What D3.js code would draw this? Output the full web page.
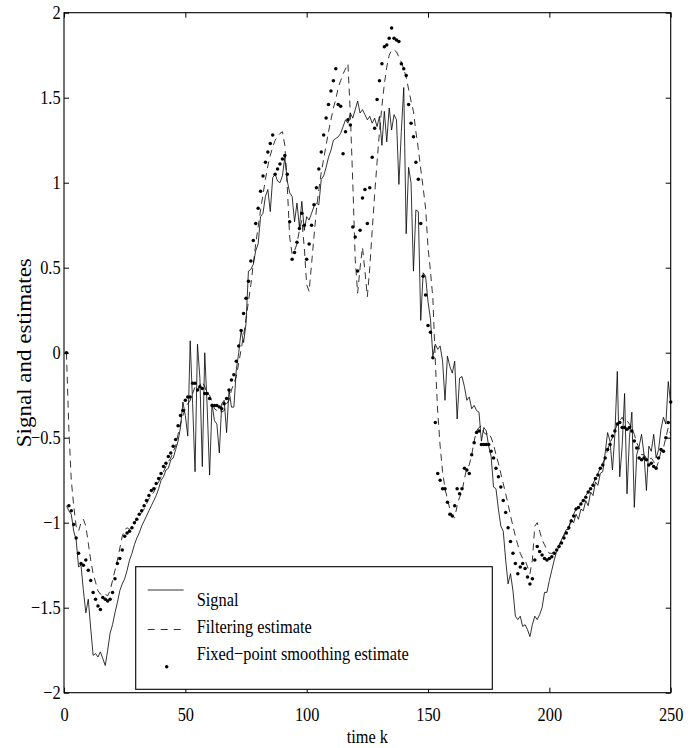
<!DOCTYPE html>
<html><head><meta charset="utf-8">
<script src="https://cdn.jsdelivr.net/npm/d3@7"></script>
<style>
body{margin:0;background:#fff;}
text{font-family:"Liberation Serif","Times New Roman",serif;fill:#000;}
</style></head>
<body><svg id="c" width="699" height="748"></svg>
<script>
// time index k = 1..250
const signal = [
-0.90,-0.93,-0.95,-1.05,-1.10,-1.26,-1.25,-1.40,-1.53,-1.45,
-1.62,-1.78,-1.77,-1.79,-1.76,-1.80,-1.84,-1.75,-1.65,-1.60,
-1.53,-1.47,-1.40,-1.36,-1.33,-1.28,-1.22,-1.18,-1.13,-1.09,
-1.06,-1.02,-0.99,-0.96,-0.93,-0.90,-0.87,-0.84,-0.80,-0.75,
-0.73,-0.69,-0.68,-0.63,-0.62,-0.57,-0.52,-0.44,-0.29,-0.37,
-0.49,0.07,-0.30,-0.70,0.05,-0.15,-0.67,0.00,-0.32,-0.72,
-0.30,-0.40,-0.42,-0.59,-0.30,-0.28,-0.47,-0.22,-0.32,-0.32,
-0.10,0.00,0.13,0.06,0.17,0.48,0.49,0.52,0.60,0.64,
0.80,0.82,0.92,0.96,0.83,1.03,1.05,1.01,1.00,1.04,
1.15,1.01,0.94,0.92,0.77,0.88,0.74,0.89,0.72,0.80,
0.78,0.82,0.86,0.88,0.87,1.02,1.04,1.09,1.15,1.19,
1.25,1.26,1.27,1.29,1.33,1.37,1.35,1.41,1.38,1.43,
1.48,1.41,1.43,1.40,1.37,1.39,1.35,1.38,1.33,1.39,
1.22,1.42,1.24,1.44,1.31,1.40,1.37,0.99,1.30,1.56,
0.70,1.09,1.00,0.48,0.84,0.83,0.19,0.47,0.45,0.30,
0.20,-0.02,0.05,0.02,0.04,-0.05,-0.28,-0.02,-0.08,-0.12,
-0.05,-0.39,-0.15,-0.14,-0.20,-0.28,-0.26,-0.33,-0.31,-0.34,
-0.35,-0.52,-0.44,-0.46,-0.55,-0.61,-0.79,-0.80,-0.92,-1.02,
-1.05,-1.22,-1.36,-1.30,-1.40,-1.55,-1.57,-1.55,-1.61,-1.60,
-1.63,-1.67,-1.60,-1.55,-1.57,-1.54,-1.50,-1.41,-1.41,-1.34,
-1.28,-1.22,-1.17,-1.14,-1.10,-1.07,-1.04,-1.04,-0.98,-1.00,
-0.95,-0.98,-0.92,-0.93,-0.87,-0.90,-0.82,-0.84,-0.76,-0.78,
-0.71,-0.70,-0.59,-0.47,-0.52,-0.69,-0.48,-0.11,-0.73,-0.55,
-0.24,-0.83,-0.50,-0.35,-0.91,-0.60,-0.55,-0.48,-0.60,-0.81,
-0.55,-0.58,-0.48,-0.62,-0.57,-0.45,-0.38,-0.42,-0.17,-0.30
];
const filtering = [
0.00,-0.45,-0.75,-0.90,-1.02,-1.05,-1.00,-0.98,-1.02,-1.12,
-1.22,-1.30,-1.35,-1.40,-1.42,-1.43,-1.42,-1.43,-1.40,-1.34,
-1.28,-1.22,-1.15,-1.08,-1.04,-1.03,-1.04,-1.02,-1.00,-0.98,
-0.96,-0.94,-0.92,-0.89,-0.86,-0.84,-0.82,-0.79,-0.76,-0.73,
-0.70,-0.67,-0.64,-0.62,-0.58,-0.55,-0.48,-0.42,-0.37,-0.33,
-0.30,-0.28,-0.24,-0.20,-0.22,-0.19,-0.17,-0.20,-0.24,-0.25,
-0.29,-0.33,-0.34,-0.33,-0.35,-0.34,-0.30,-0.28,-0.22,-0.18,
-0.14,-0.06,0.02,0.10,0.20,0.30,0.40,0.52,0.64,0.74,
0.84,0.93,1.02,1.10,1.16,1.21,1.25,1.27,1.29,1.30,
1.22,0.98,0.68,0.58,0.60,0.64,0.72,0.78,0.62,0.40,
0.36,0.52,0.68,0.84,0.96,1.06,1.14,1.22,1.30,1.37,
1.44,1.49,1.56,1.60,1.64,1.67,1.70,1.40,1.00,0.55,
0.35,0.50,0.62,0.48,0.33,0.50,0.72,0.93,1.12,1.30,
1.45,1.58,1.68,1.75,1.78,1.78,1.77,1.74,1.71,1.67,
1.62,1.55,1.48,1.42,1.30,1.20,1.08,0.97,0.85,0.62,
0.48,0.32,-0.05,-0.35,-0.55,-0.70,-0.80,-0.86,-0.92,-0.96,
-0.97,-0.90,-0.85,-0.82,-0.74,-0.68,-0.66,-0.60,-0.52,-0.46,
-0.44,-0.43,-0.47,-0.48,-0.47,-0.50,-0.54,-0.60,-0.65,-0.71,
-0.77,-0.83,-0.89,-0.96,-1.02,-1.08,-1.13,-1.18,-1.21,-1.22,
-1.26,-1.30,-1.22,-1.02,-1.00,-1.05,-1.10,-1.13,-1.16,-1.18,
-1.18,-1.17,-1.15,-1.13,-1.10,-1.08,-1.05,-1.02,-0.99,-0.95,
-0.92,-0.90,-0.89,-0.86,-0.84,-0.82,-0.80,-0.77,-0.74,-0.71,
-0.68,-0.65,-0.62,-0.57,-0.53,-0.50,-0.46,-0.42,-0.40,-0.38,
-0.41,-0.40,-0.42,-0.44,-0.48,-0.53,-0.56,-0.60,-0.60,-0.62,
-0.63,-0.62,-0.64,-0.68,-0.64,-0.58,-0.56,-0.50,-0.44,-0.48
];
const smoothing = [
0.00,-0.90,-0.93,-1.01,-1.09,-1.18,-1.24,-1.25,-1.22,-1.28,
-1.34,-1.41,-1.45,-1.49,-1.51,-1.44,-1.45,-1.46,-1.45,-1.41,
-1.33,-1.24,-1.21,-1.16,-1.08,-1.06,-1.05,-1.03,-1.00,-0.98,
-0.95,-0.93,-0.90,-0.87,-0.84,-0.81,-0.80,-0.77,-0.74,-0.71,
-0.67,-0.65,-0.61,-0.59,-0.55,-0.51,-0.43,-0.37,-0.34,-0.28,
-0.26,-0.26,-0.18,-0.18,-0.22,-0.20,-0.21,-0.24,-0.24,-0.27,
-0.31,-0.31,-0.31,-0.32,-0.33,-0.30,-0.27,-0.22,-0.16,-0.13,
-0.05,0.04,0.13,0.23,0.32,0.42,0.54,0.66,0.76,0.85,
0.95,1.04,1.12,1.18,1.23,1.28,1.05,1.08,1.11,1.14,
1.16,1.05,0.77,0.55,0.59,0.65,0.73,0.82,0.75,0.55,
0.64,0.75,0.87,0.97,1.08,1.18,1.28,1.38,1.46,1.54,
1.60,1.67,1.46,1.45,1.17,1.30,1.37,1.34,0.74,0.68,
0.48,0.72,0.91,0.96,0.76,0.97,1.15,1.32,1.49,1.60,
1.70,1.80,1.81,1.85,1.91,1.85,1.84,1.83,1.70,1.67,
1.63,1.46,1.35,1.27,1.12,1.02,0.76,0.45,0.34,0.16,
0.12,-0.03,-0.41,-0.71,-0.75,-0.80,-0.80,-0.88,-0.95,-0.96,
-0.90,-0.80,-0.83,-0.80,-0.68,-0.69,-0.71,-0.60,-0.53,-0.47,
-0.46,-0.54,-0.54,-0.54,-0.54,-0.58,-0.62,-0.68,-0.73,-0.79,
-0.87,-0.94,-1.03,-1.11,-1.18,-1.24,-1.30,-1.26,-1.24,-1.27,
-1.32,-1.36,-1.33,-1.22,-1.14,-1.17,-1.19,-1.21,-1.22,-1.21,
-1.20,-1.18,-1.16,-1.14,-1.12,-1.09,-1.06,-1.03,-0.99,-0.96,
-0.92,-0.91,-0.89,-0.87,-0.85,-0.82,-0.80,-0.78,-0.74,-0.72,
-0.68,-0.66,-0.62,-0.57,-0.54,-0.49,-0.46,-0.42,-0.41,-0.44,
-0.44,-0.45,-0.44,-0.46,-0.52,-0.56,-0.62,-0.63,-0.62,-0.63,
-0.66,-0.65,-0.67,-0.68,-0.62,-0.57,-0.58,-0.50,-0.41,-0.29
];
const xTicks = [0,50,100,150,200,250];
const yTicks = [-2,-1.5,-1,-0.5,0,0.5,1,1.5,2];
const legendLabels = ["Signal","Filtering estimate","Fixed\u2212point smoothing estimate"];
const xLabel = "time k";
const yLabel = "Signal and estimates";

const svg = d3.select("#c");
const L=64, R=670.7, T=12.7, B=692.7;
const SX = 0.84; // horizontal glyph compression
const x = d3.scaleLinear().domain([0,250]).range([L,R]);
const y = d3.scaleLinear().domain([-2,2]).range([B,T]);
const fmt = d => (d<0?"\u2212":"") + Math.abs(d);

const k = d3.range(1, signal.length+1);

// frame
svg.append("rect").attr("x",L).attr("y",T).attr("width",R-L).attr("height",B-T)
  .attr("fill","none").attr("stroke","#000").attr("stroke-width",1.1);

function styleAxis(g){
  g.select(".domain").remove();
  g.selectAll(".tick line").attr("stroke","#000").attr("stroke-width",1);
  g.selectAll("text").style("font-size","19.5px").attr("fill","#000");
}
const gx = svg.append("g").attr("transform",`translate(0,${B})`)
  .call(d3.axisBottom(x).tickValues(xTicks).tickSize(-5).tickSizeOuter(0).tickPadding(14).tickFormat(fmt));
styleAxis(gx);
gx.selectAll("text").attr("transform",`scale(${SX},1)`);
const gy = svg.append("g").attr("transform",`translate(${L},0)`)
  .call(d3.axisLeft(y).tickValues(yTicks).tickSize(-5).tickSizeOuter(0).tickPadding(4).tickFormat(fmt));
styleAxis(gy);
gy.selectAll("text").attr("transform",`scale(${SX},1)`);
const gt = svg.append("g").attr("transform",`translate(0,${T})`)
  .call(d3.axisTop(x).tickValues(xTicks).tickSize(-5).tickSizeOuter(0).tickFormat(""));
styleAxis(gt);
const gr = svg.append("g").attr("transform",`translate(${R},0)`)
  .call(d3.axisRight(y).tickValues(yTicks).tickSize(-5).tickSizeOuter(0).tickFormat(""));
styleAxis(gr);

const line = arr => d3.line().x((d,i)=>x(k[i])).y(d=>y(d))(arr);

svg.append("path").attr("d",line(signal)).attr("fill","none")
  .attr("stroke","#000").attr("stroke-width",0.8);
svg.append("path").attr("d",line(filtering)).attr("fill","none")
  .attr("stroke","#000").attr("stroke-width",0.8).attr("stroke-dasharray","7,5");
svg.append("g").selectAll("circle").data(smoothing).join("circle")
  .attr("cx",(d,i)=>x(k[i])).attr("cy",d=>y(d)).attr("r",1.75).attr("fill","#000");

// labels
svg.append("text").attr("transform",`translate(${(L+R)/2},743) scale(${SX},1)`)
  .attr("text-anchor","middle").style("font-size","19.5px").text(xLabel);
svg.append("text").attr("transform",`translate(31,${(T+B)/2}) rotate(-90) scale(1,0.9)`)
  .attr("text-anchor","middle").style("font-size","23px").text(yLabel);

// legend
const lg = svg.append("g");
lg.append("rect").attr("x",135.7).attr("y",566.7).attr("width",356.6).attr("height",122.6)
  .attr("fill","#fff").attr("stroke","#000").attr("stroke-width",1.1);
lg.append("line").attr("x1",147.7).attr("x2",183.7).attr("y1",590).attr("y2",590)
  .attr("stroke","#000").attr("stroke-width",0.8);
lg.append("line").attr("x1",147.7).attr("x2",183.7).attr("y1",629.5).attr("y2",629.5)
  .attr("stroke","#000").attr("stroke-width",0.8).attr("stroke-dasharray","7,6");
lg.append("circle").attr("cx",166.7).attr("cy",666.7).attr("r",1.75).attr("fill","#000");
const baselines=[606,633,660];
legendLabels.forEach((t,i)=>{
  lg.append("text").attr("transform",`translate(196.7,${baselines[i]}) scale(${SX},1)`)
    .style("font-size","19.5px").text(t);
});
</script></body></html>
